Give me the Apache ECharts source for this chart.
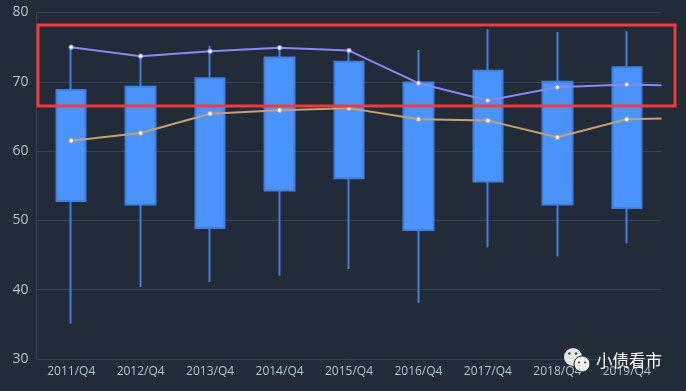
<!DOCTYPE html>
<html><head><meta charset="utf-8">
<style>html,body{margin:0;padding:0;background:#222b38}#c{width:686px;height:391px}</style>
<script src="https://cdn.jsdelivr.net/npm/echarts@6/dist/echarts.min.js"></script>
</head><body><div id="c"></div>
<script>
const categories = ['2011/Q4','2012/Q4','2013/Q4','2014/Q4','2015/Q4','2016/Q4','2017/Q4','2018/Q4','2019/Q4'];
const boxOpen  = [52.8,52.3,48.9,54.3,56.1,48.6,55.6,52.3,51.8];
const boxClose = [68.8,69.3,70.5,73.5,72.9,69.9,71.6,70.0,72.1];
const boxLow   = [35.1,40.4,41.1,42.0,43.0,38.1,46.1,44.8,46.7];
const boxHigh  = [75.0,73.7,75.2,75.0,74.5,74.6,77.6,77.2,77.3];
// The last value of each line runs on to the right edge of the plot, unmarked.
const upperLine = [75.0,73.7,74.4,74.9,74.5,69.8,67.3,69.2,69.6,69.5];
const lowerLine = [61.5,62.6,65.4,65.9,66.2,64.6,64.4,62.0,64.6,64.7];
const yTicks = {min:30,max:80,interval:10};
const watermark = '小债看市';

const AXIS='#364258', LABEL='#b2c0d8', BLUE='#4a94ff', EDGE='#3f80e0';
function linePoints(vals){
  return vals.map((v,i)=>{
    const last=i===vals.length-1;
    return {value:[last?categories.length:i+0.5,v],symbol:last?'none':'circle'};
  });
}
function lineSeries(vals,color){
  return {type:'line',xAxisIndex:1,yAxisIndex:0,data:linePoints(vals),symbol:'circle',symbolSize:4.5,z:5,
    showAllSymbol:true,silent:true,
    lineStyle:{color,width:2},itemStyle:{color:'#ffffff',borderColor:color,borderWidth:1}};
}
const chart=echarts.init(document.getElementById('c'),null,{renderer:'canvas'});
chart.setOption({
  animation:false,backgroundColor:'#222b38',
  textStyle:{fontFamily:'"Noto Sans","Noto Sans CJK SC",sans-serif'},
  grid:{left:36.5,right:24.5,top:12.5,bottom:32},
  xAxis:[
    {type:'category',data:categories,axisLine:{lineStyle:{color:AXIS}},axisTick:{show:false},
     axisLabel:{color:LABEL,fontSize:12,margin:7,interval:0,fontFamily:'"Open Sans",sans-serif'},splitLine:{show:false}},
    {type:'value',min:0,max:categories.length,show:false}
  ],
  yAxis:[{type:'value',min:yTicks.min,max:yTicks.max,interval:yTicks.interval,
    axisLine:{show:true,lineStyle:{color:AXIS}},axisTick:{show:false},
    axisLabel:{color:LABEL,fontSize:14,margin:8,fontFamily:'"Open Sans",sans-serif'},
    splitLine:{lineStyle:{color:AXIS,width:1}}}],
  series:[
    {type:'candlestick',barWidth:30,silent:true,z:2,
     data:categories.map((_,i)=>[boxOpen[i],boxClose[i],boxLow[i],boxHigh[i]]),
     itemStyle:{color:BLUE,color0:BLUE,borderColor:EDGE,borderColor0:EDGE,borderWidth:2}},
    lineSeries(upperLine,'#8a86f5'),
    lineSeries(lowerLine,'#c5a16e')
  ],
  graphic:[
    {type:'rect',z:50,shape:{x:38,y:25,width:637,height:81},style:{fill:'none',stroke:'#f23a3c',lineWidth:3}},
    {type:'circle',z:50,shape:{cx:573,cy:357,r:9},style:{fill:'#e6e6e6'}},
    {type:'circle',z:51,shape:{cx:582,cy:364,r:8},style:{fill:'#f2f2f2',stroke:'#222b38',lineWidth:1}},
    {type:'circle',z:52,shape:{cx:569.5,cy:353.5,r:1.2},style:{fill:'#333c48'}},
    {type:'circle',z:52,shape:{cx:576,cy:353.5,r:1.2},style:{fill:'#333c48'}},
    {type:'circle',z:52,shape:{cx:579,cy:362.5,r:1},style:{fill:'#333c48'}},
    {type:'circle',z:52,shape:{cx:585,cy:362.5,r:1},style:{fill:'#333c48'}},
    {type:'text',z:52,x:596,y:352,style:{text:watermark,fill:'#ffffff',font:'16.5px "Noto Sans CJK SC"',
      shadowColor:'rgba(0,0,0,0.6)',shadowBlur:2,shadowOffsetX:1,shadowOffsetY:1}}
  ]
});
</script></body></html>
